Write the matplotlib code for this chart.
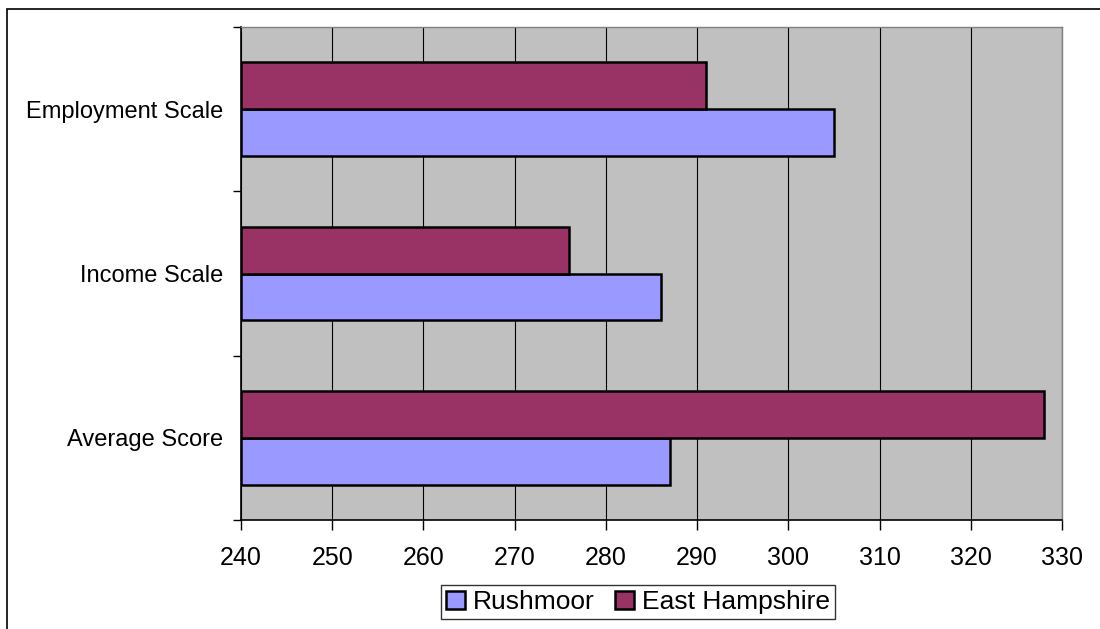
import numpy as np
import matplotlib
matplotlib.use('Agg')
import matplotlib.pyplot as plt
from matplotlib.patches import Rectangle

# 数据
categories = ['Average Score', 'Income Scale', 'Employment Scale']
rushmoor = [287, 286, 305]
east_hampshire = [328, 276, 291]
series_names = ['Rushmoor', 'East Hampshire']
x_ticks = [240, 250, 260, 270, 280, 290, 300, 310, 320, 330]

plt.rcParams['font.family'] = ['Liberation Sans', 'DejaVu Sans']

fig = plt.figure(figsize=(11, 6.29), dpi=100)
fig.set_facecolor('white')
ax = fig.add_axes([241 / 1100, 1 - 520 / 629, (1062 - 241) / 1100, (520 - 27) / 629])
ax.set_facecolor('#C0C0C0')

y = np.arange(len(categories))
h = 1 / 3.5
left = x_ticks[0]
ax.barh(y - h / 2, np.array(rushmoor) - left, left=left, height=h,
        color='#9999FF', edgecolor='black', linewidth=1.8, label=series_names[0], zorder=3)
ax.barh(y + h / 2, np.array(east_hampshire) - left, left=left, height=h,
        color='#993366', edgecolor='black', linewidth=1.8, label=series_names[1], zorder=3)

ax.set_xlim(x_ticks[0], x_ticks[-1])
ax.set_ylim(-0.5, len(categories) - 0.5)
ax.set_xticks(x_ticks)
ax.tick_params(axis='x', labelsize=18, direction='out', length=7, width=1, pad=12)
ax.grid(axis='x', color='black', linewidth=0.8, zorder=1)

# 类别标签在中间, 刻度在边界
ax.set_yticks(np.arange(len(categories) + 1) - 0.5)
ax.set_yticklabels([])
ax.set_yticks(y, minor=True)
ax.set_yticklabels(categories, minor=True)
ax.tick_params(axis='y', which='major', direction='out', length=6, width=1)
ax.tick_params(axis='y', which='minor', length=0, labelsize=17, pad=13)

for s in ['top', 'right']:
    ax.spines[s].set_color('#808080')
    ax.spines[s].set_linewidth(1)
for s in ['left', 'bottom']:
    ax.spines[s].set_color('black')
    ax.spines[s].set_linewidth(1.2)

leg = fig.legend(loc='center', bbox_to_anchor=(638 / 1100, 1 - 602 / 629), ncol=2,
                 fontsize=19, frameon=True, fancybox=False, edgecolor='black',
                 handlelength=0.7, handleheight=0.7, handletextpad=0.3,
                 columnspacing=0.8, borderpad=0.2, borderaxespad=0)
leg.get_frame().set_linewidth(1)

# 图表外框
fig.patches.append(Rectangle((7 / 1100, -0.1), 1.2, 1 - 9 / 629 + 0.1, transform=fig.transFigure,
                             fill=False, edgecolor='black', linewidth=1.2))

fig.savefig('out.png', dpi=100)
